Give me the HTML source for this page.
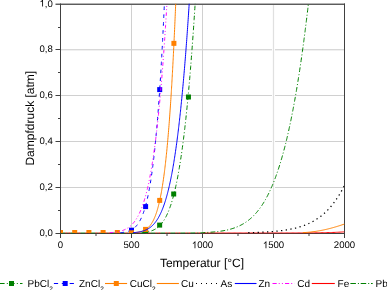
<!DOCTYPE html>
<html><head><meta charset="utf-8"><style>
html,body{margin:0;padding:0;background:#fff;width:387px;height:290px;overflow:hidden}
svg{display:block;will-change:transform;text-rendering:geometricPrecision;font-family:"Liberation Sans",sans-serif}
</style></head><body>
<svg width="387" height="290" viewBox="0 0 387 290">
<rect width="387" height="290" fill="#fff"/>
<defs><clipPath id="pc"><rect x="60.5" y="3.8" width="284" height="229.7"/></clipPath><clipPath id="pm"><rect x="60.5" y="3.8" width="284" height="229.2"/></clipPath></defs>
<g stroke="#d0d0d0" stroke-width="1"><line x1="61" y1="95.5" x2="344" y2="95.5"/><line x1="61" y1="141.5" x2="344" y2="141.5"/><line x1="61" y1="187.5" x2="344" y2="187.5"/><rect x="61" y="49" width="283" height="1" fill="#d8d8d8" stroke="none"/><rect x="61" y="50" width="283" height="1" fill="#f0f0f0" stroke="none"/><line x1="131.5" y1="4" x2="131.5" y2="233"/><line x1="202.5" y1="4" x2="202.5" y2="233"/><rect x="272" y="5" width="1" height="228" fill="#fbfbfb" stroke="none"/><rect x="273" y="5" width="1" height="228" fill="#e0e0e0" stroke="none"/><rect x="274" y="5" width="1" height="228" fill="#fcfcfc" stroke="none"/></g>
<g stroke="#404040" stroke-width="1" fill="none"><rect x="55.5" y="3" width="289.5" height="1" fill="#b4b4b4" stroke="none"/><rect x="55.5" y="4" width="289.5" height="1" fill="#5c5c5c" stroke="none"/><line x1="60.5" y1="3.5" x2="60.5" y2="233.5"/><line x1="344.5" y1="3.5" x2="344.5" y2="233.5"/><line x1="60" y1="233.5" x2="345" y2="233.5"/></g>
<g clip-path="url(#pc)" fill="none" stroke-width="1.0">
<path d="M60.5 233.00 H202.50" stroke="#ff0000" stroke-dasharray="0 4.8 2 1 2.2 0"/>
<path d="M202.50 233.00 L203.71 233.00 L204.91 233.00 L206.12 233.00 L207.33 233.00 L208.53 233.00 L209.74 233.00 L210.95 233.00 L212.16 233.00 L213.36 233.00 L214.57 233.00 L215.78 233.00 L216.98 233.00 L218.19 233.00 L219.40 233.00 L220.60 233.00 L221.81 233.00 L223.02 233.00 L224.23 233.00 L225.43 233.00 L226.64 233.00 L227.85 233.00 L229.05 233.00 L230.26 233.00 L231.47 233.00 L232.67 233.00 L233.88 233.00 L235.09 233.00 L236.30 233.00 L237.50 233.00 L238.71 233.00 L239.92 233.00 L241.12 233.00 L242.33 233.00 L243.54 233.00 L244.74 233.00 L245.95 233.00 L247.16 233.00 L248.37 233.00 L249.57 233.00 L250.78 233.00 L251.99 233.00 L253.19 233.00 L254.40 233.00 L255.61 233.00 L256.81 233.00 L258.02 233.00 L259.23 233.00 L260.44 233.00 L261.64 233.00 L262.85 233.00 L264.06 233.00 L265.26 233.00 L266.47 233.00 L267.68 233.00 L268.88 233.00 L270.09 233.00 L271.30 233.00 L272.51 233.00 L273.71 233.00 L274.92 232.99 L276.13 232.99 L277.33 232.99 L278.54 232.99 L279.75 232.99 L280.95 232.99 L282.16 232.99 L283.37 232.99 L284.58 232.99 L285.78 232.99 L286.99 232.98 L288.20 232.98 L289.40 232.98 L290.61 232.98 L291.82 232.98 L293.02 232.97 L294.23 232.97 L295.44 232.97 L296.65 232.96 L297.85 232.96 L299.06 232.95 L300.27 232.95 L301.47 232.95 L302.68 232.94 L303.89 232.93 L305.09 232.93 L306.30 232.92 L307.51 232.91 L308.72 232.90 L309.92 232.89 L311.13 232.88 L312.34 232.87 L313.54 232.86 L314.75 232.85 L315.96 232.83 L317.16 232.82 L318.37 232.80 L319.58 232.78 L320.79 232.76 L321.99 232.74 L323.20 232.72 L324.41 232.69 L325.61 232.66 L326.82 232.63 L328.03 232.60 L329.23 232.57 L330.44 232.53 L331.65 232.49 L332.86 232.45 L334.06 232.41 L335.27 232.36 L336.48 232.30 L337.68 232.25 L338.89 232.19 L340.10 232.12 L341.23 232.06 L342.37 231.99 L343.51 231.92 L344.50 231.85" stroke="#ff0000"/>
<path d="M60.50 233.00 L61.21 233.00 L61.92 233.00 L62.63 233.00 L63.34 233.00 L64.05 233.00 L64.76 233.00 L65.47 233.00 L66.18 233.00 L66.89 233.00 L67.60 233.00 L68.31 233.00 L69.02 233.00 L69.73 233.00 L70.44 233.00 L71.15 233.00 L71.86 233.00 L72.57 233.00 L73.28 233.00 L73.99 233.00 L74.70 233.00 L75.41 233.00 L76.12 233.00 L76.83 233.00 L77.54 233.00 L78.25 233.00 L78.96 233.00 L79.67 233.00 L80.38 233.00 L81.09 233.00 L81.80 233.00 L82.51 233.00 L83.22 233.00 L83.93 233.00 L84.64 233.00 L85.35 233.00 L86.06 233.00 L86.77 233.00 L87.48 233.00 L88.19 233.00 L88.90 233.00 L89.61 233.00 L90.32 233.00 L91.03 233.00 L91.74 233.00 L92.45 233.00 L93.16 233.00 L93.87 233.00 L94.58 233.00 L95.29 233.00 L96.00 233.00 L96.71 233.00 L97.42 233.00 L98.13 233.00 L98.84 233.00 L99.55 233.00 L100.26 233.00 L100.97 233.00 L101.68 233.00 L102.39 233.00 L103.10 233.00 L103.81 233.00 L104.52 233.00 L105.23 233.00 L105.94 233.00 L106.65 233.00 L107.36 233.00 L108.07 233.00 L108.78 233.00 L109.49 233.00 L110.20 233.00 L110.91 233.00 L111.62 233.00 L112.33 233.00 L113.04 233.00 L113.75 233.00 L114.46 233.00 L115.17 233.00 L115.88 233.00 L116.59 233.00 L117.30 233.00 L118.01 233.00 L118.72 233.00 L119.43 233.00 L120.14 233.00 L120.85 233.00 L121.56 233.00 L122.27 233.00 L122.98 233.00 L123.69 233.00 L124.40 233.00 L125.11 233.00 L125.82 233.00 L126.53 233.00 L127.24 233.00 L127.95 233.00 L128.66 233.00 L129.37 233.00 L130.08 233.00 L130.79 233.00 L131.50 233.00 L132.21 233.00 L132.92 233.00 L133.63 233.00 L134.34 233.00 L135.05 233.00 L135.76 233.00 L136.47 233.00 L137.18 233.00 L137.89 233.00 L138.60 233.00 L139.31 233.00 L140.02 233.00 L140.73 233.00 L141.44 233.00 L142.15 233.00 L142.86 233.00 L143.57 233.00 L144.28 233.00 L144.99 233.00 L145.70 233.00 L146.41 233.00 L147.12 233.00 L147.83 233.00 L148.54 233.00 L149.25 233.00 L149.96 233.00 L150.67 233.00 L151.38 233.00 L152.09 233.00 L152.80 233.00 L153.51 233.00 L154.22 233.00 L154.93 233.00 L155.64 233.00 L156.35 233.00 L157.06 233.00 L157.77 233.00 L158.48 233.00 L159.19 233.00 L159.90 233.00 L160.61 233.00 L161.32 233.00 L162.03 233.00 L162.74 233.00 L163.45 233.00 L164.16 233.00 L164.87 233.00 L165.58 233.00 L166.29 233.00 L167.00 232.99 L167.71 232.99 L168.42 232.99 L169.13 232.99 L169.84 232.99 L170.55 232.99 L171.26 232.99 L171.97 232.99 L172.68 232.99 L173.39 232.99 L174.10 232.99 L174.81 232.98 L175.52 232.98 L176.23 232.98 L176.94 232.98 L177.65 232.98 L178.36 232.98 L179.07 232.97 L179.78 232.97 L180.49 232.97 L181.20 232.96 L181.91 232.96 L182.62 232.96 L183.33 232.95 L184.04 232.95 L184.75 232.95 L185.46 232.94 L186.17 232.94 L186.88 232.93 L187.59 232.92 L188.30 232.92 L189.01 232.91 L189.72 232.90 L190.43 232.89 L191.14 232.89 L191.85 232.88 L192.56 232.87 L193.27 232.86 L193.98 232.84 L194.69 232.83 L195.40 232.82 L196.11 232.81 L196.82 232.79 L197.53 232.78 L198.24 232.76 L198.95 232.74 L199.66 232.72 L200.37 232.70 L201.08 232.68 L201.79 232.66 L202.50 232.63" stroke="#008000" stroke-dasharray="4.8 2 1 2.2"/>
<path d="M141.72 232.66 L142.86 232.57 L144.00 232.45 L145.13 232.32 L146.20 232.16 L147.26 231.98 L148.33 231.76 L149.32 231.52 L150.31 231.24 L151.24 230.95 L152.16 230.61 L153.01 230.26 L153.87 229.87 L154.72 229.43 L155.50 228.98 L156.28 228.49 L156.99 228.00 L157.70 227.46 L158.41 226.87 L159.05 226.30 L159.69 225.69 L160.33 225.03 L160.96 224.32 L161.53 223.65 L162.10 222.94 L162.67 222.18 L163.17 221.47 L163.66 220.73 L164.16 219.95 L164.66 219.13 L165.15 218.27 L165.65 217.36 L166.08 216.55 L166.50 215.70 L166.93 214.82 L167.35 213.90 L167.78 212.95 L168.21 211.95 L168.56 211.09 L168.92 210.20 L169.27 209.28 L169.63 208.33 L169.98 207.36 L170.34 206.35 L170.69 205.30 L171.05 204.23 L171.40 203.12 L171.76 201.97 L172.04 201.03 L172.32 200.07 L172.61 199.09 L172.89 198.07 L173.18 197.04 L173.46 195.98 L173.75 194.90 L174.03 193.79 L174.31 192.65 L174.60 191.49 L174.88 190.30 L175.16 189.08 L175.45 187.84 L175.73 186.57 L176.02 185.27 L176.23 184.27 L176.44 183.26 L176.66 182.23 L176.87 181.19 L177.08 180.12 L177.29 179.04 L177.51 177.95 L177.72 176.83 L177.93 175.70 L178.15 174.55 L178.36 173.38 L178.57 172.19 L178.79 170.98 L179.00 169.76 L179.21 168.51 L179.42 167.25 L179.64 165.96 L179.85 164.66 L180.06 163.33 L180.28 161.99 L180.49 160.62 L180.70 159.23 L180.92 157.83 L181.13 156.40 L181.34 154.95 L181.56 153.47 L181.77 151.98 L181.98 150.46 L182.19 148.93 L182.41 147.36 L182.62 145.78 L182.76 144.71 L182.90 143.63 L183.05 142.54 L183.19 141.44 L183.33 140.33 L183.47 139.21 L183.61 138.08 L183.76 136.94 L183.90 135.78 L184.04 134.62 L184.18 133.44 L184.32 132.26 L184.47 131.06 L184.61 129.85 L184.75 128.63 L184.89 127.40 L185.03 126.16 L185.18 124.90 L185.32 123.64 L185.46 122.36 L185.60 121.07 L185.74 119.77 L185.89 118.46 L186.03 117.13 L186.17 115.80 L186.31 114.45 L186.45 113.09 L186.60 111.71 L186.74 110.33 L186.88 108.93 L187.02 107.52 L187.16 106.10 L187.31 104.66 L187.45 103.21 L187.59 101.75 L187.73 100.28 L187.87 98.79 L188.02 97.29 L188.16 95.78 L188.30 94.26 L188.44 92.72 L188.58 91.17 L188.73 89.60 L188.87 88.02 L189.01 86.43 L189.15 84.82 L189.29 83.20 L189.44 81.57 L189.58 79.92 L189.72 78.26 L189.86 76.59 L190.00 74.90 L190.15 73.19 L190.29 71.48 L190.43 69.75 L190.57 68.00 L190.71 66.24 L190.86 64.46 L191.00 62.67 L191.14 60.87 L191.28 59.05 L191.42 57.22 L191.57 55.37 L191.71 53.50 L191.85 51.62 L191.99 49.73 L192.13 47.82 L192.28 45.89 L192.42 43.95 L192.56 42.00 L192.70 40.03 L192.84 38.04 L192.99 36.03 L193.13 34.02 L193.27 31.98 L193.41 29.93 L193.55 27.86 L193.70 25.78 L193.84 23.68 L193.98 21.56 L194.12 19.43 L194.26 17.28 L194.41 15.12 L194.55 12.94 L194.69 10.74 L194.83 8.52 L194.97 6.29 L195.12 4.04 L195.19 2.91 L195.26 1.77 L195.33 0.63 L195.40 -0.51 L195.47 -1.66 L195.54 -2.81 L195.61 -3.97 L195.68 -5.13 L195.75 -6.30 L195.83 -7.47 L195.90 -8.64 L195.97 -9.82 L196.04 -11.00 L196.11 -12.19 L196.18 -13.38 L196.25 -14.54 L196.25 -14.54" stroke="#008000" stroke-dasharray="4.5 2 1 2.5"/>
<g clip-path="url(#pm)" stroke="none">
<rect x="129.00" y="230.00" width="5" height="5" fill="#008000"/>
<rect x="143.20" y="230.00" width="5" height="5" fill="#008000"/>
<rect x="157.15" y="222.60" width="5" height="5" fill="#008000"/>
<rect x="171.20" y="191.50" width="5" height="5" fill="#008000"/>
<rect x="185.95" y="94.50" width="5" height="5" fill="#008000"/>
</g>
<path d="M120.42 232.66 L121.56 232.56 L122.70 232.44 L123.76 232.29 L124.83 232.12 L125.89 231.91 L126.88 231.67 L127.88 231.39 L128.80 231.08 L129.72 230.72 L130.58 230.34 L131.43 229.90 L132.21 229.45 L132.99 228.94 L133.70 228.42 L134.41 227.84 L135.05 227.27 L135.69 226.64 L136.33 225.95 L136.90 225.29 L137.46 224.57 L138.03 223.79 L138.53 223.07 L139.03 222.29 L139.52 221.46 L140.02 220.57 L140.45 219.76 L140.87 218.91 L141.30 218.01 L141.72 217.07 L142.15 216.07 L142.50 215.19 L142.86 214.28 L143.21 213.33 L143.57 212.33 L143.93 211.30 L144.28 210.22 L144.63 209.09 L144.92 208.15 L145.20 207.18 L145.49 206.18 L145.77 205.15 L146.06 204.08 L146.34 202.98 L146.62 201.84 L146.91 200.67 L147.19 199.45 L147.47 198.20 L147.76 196.91 L147.97 195.91 L148.19 194.89 L148.40 193.85 L148.61 192.78 L148.82 191.69 L149.04 190.57 L149.25 189.43 L149.46 188.26 L149.68 187.06 L149.89 185.84 L150.10 184.59 L150.31 183.31 L150.53 182.00 L150.74 180.66 L150.95 179.29 L151.17 177.90 L151.38 176.47 L151.59 175.01 L151.81 173.51 L152.02 171.99 L152.23 170.43 L152.44 168.84 L152.59 167.76 L152.73 166.66 L152.87 165.55 L153.01 164.42 L153.15 163.28 L153.30 162.12 L153.44 160.94 L153.58 159.75 L153.72 158.54 L153.87 157.31 L154.01 156.07 L154.15 154.81 L154.29 153.53 L154.43 152.23 L154.57 150.92 L154.72 149.59 L154.86 148.24 L155.00 146.87 L155.14 145.48 L155.28 144.07 L155.43 142.65 L155.57 141.20 L155.71 139.74 L155.85 138.26 L156.00 136.75 L156.14 135.23 L156.28 133.68 L156.42 132.12 L156.56 130.53 L156.70 128.92 L156.85 127.30 L156.99 125.65 L157.13 123.97 L157.27 122.28 L157.41 120.56 L157.56 118.83 L157.70 117.06 L157.84 115.28 L157.98 113.47 L158.12 111.64 L158.27 109.79 L158.41 107.91 L158.55 106.01 L158.69 104.08 L158.83 102.13 L158.98 100.16 L159.12 98.16 L159.26 96.13 L159.40 94.08 L159.54 92.00 L159.69 89.90 L159.83 87.77 L159.97 85.61 L160.11 83.43 L160.25 81.22 L160.40 78.98 L160.47 77.85 L160.54 76.71 L160.61 75.57 L160.68 74.42 L160.75 73.26 L160.82 72.09 L160.89 70.92 L160.96 69.74 L161.04 68.56 L161.11 67.36 L161.18 66.16 L161.25 64.96 L161.32 63.74 L161.39 62.52 L161.46 61.29 L161.53 60.05 L161.60 58.81 L161.68 57.55 L161.75 56.29 L161.82 55.02 L161.89 53.75 L161.96 52.47 L162.03 51.18 L162.10 49.88 L162.17 48.57 L162.24 47.26 L162.31 45.94 L162.38 44.61 L162.46 43.27 L162.53 41.92 L162.60 40.57 L162.67 39.21 L162.74 37.84 L162.81 36.46 L162.88 35.07 L162.95 33.68 L163.02 32.28 L163.09 30.87 L163.17 29.45 L163.24 28.02 L163.31 26.58 L163.38 25.14 L163.45 23.69 L163.52 22.23 L163.59 20.76 L163.66 19.28 L163.73 17.79 L163.81 16.30 L163.88 14.79 L163.95 13.28 L164.02 11.76 L164.09 10.23 L164.16 8.69 L164.23 7.14 L164.30 5.58 L164.37 4.02 L164.44 2.44 L164.51 0.86 L164.59 -0.73 L164.66 -2.34 L164.73 -3.95 L164.80 -5.57 L164.87 -7.20 L164.94 -8.84 L165.01 -10.48 L165.08 -12.14 L165.15 -13.81 L165.22 -14.54" stroke="#0000ff" stroke-dasharray="3.6 4.3"/>
<g clip-path="url(#pm)" stroke="none">
<rect x="129.00" y="227.70" width="5" height="5" fill="#0000ff"/>
<rect x="143.10" y="204.10" width="5" height="5" fill="#0000ff"/>
<rect x="157.20" y="87.10" width="5" height="5" fill="#0000ff"/>
</g>
<path d="M134.48 232.66 L135.62 232.56 L136.75 232.43 L137.82 232.28 L138.88 232.09 L139.88 231.88 L140.87 231.63 L141.79 231.35 L142.72 231.03 L143.57 230.67 L144.42 230.27 L145.20 229.84 L145.98 229.35 L146.69 228.85 L147.40 228.30 L148.11 227.67 L148.75 227.05 L149.39 226.37 L149.96 225.70 L150.53 224.97 L151.10 224.18 L151.59 223.44 L152.09 222.64 L152.59 221.78 L153.01 221.00 L153.44 220.16 L153.87 219.28 L154.29 218.34 L154.72 217.35 L155.07 216.48 L155.43 215.57 L155.78 214.61 L156.14 213.61 L156.49 212.56 L156.85 211.46 L157.13 210.54 L157.41 209.59 L157.70 208.60 L157.98 207.58 L158.27 206.52 L158.55 205.42 L158.83 204.28 L159.12 203.11 L159.40 201.89 L159.69 200.62 L159.97 199.32 L160.18 198.31 L160.40 197.27 L160.61 196.20 L160.82 195.11 L161.04 193.99 L161.25 192.85 L161.46 191.67 L161.68 190.46 L161.89 189.22 L162.10 187.95 L162.31 186.65 L162.53 185.32 L162.74 183.95 L162.95 182.55 L163.17 181.12 L163.38 179.65 L163.59 178.14 L163.81 176.60 L164.02 175.02 L164.16 173.94 L164.30 172.85 L164.44 171.74 L164.59 170.61 L164.73 169.47 L164.87 168.30 L165.01 167.12 L165.15 165.92 L165.30 164.70 L165.44 163.46 L165.58 162.20 L165.72 160.93 L165.86 159.63 L166.01 158.31 L166.15 156.97 L166.29 155.62 L166.43 154.24 L166.57 152.84 L166.72 151.41 L166.86 149.97 L167.00 148.50 L167.14 147.01 L167.28 145.50 L167.43 143.97 L167.57 142.41 L167.71 140.83 L167.85 139.23 L167.99 137.60 L168.14 135.95 L168.28 134.27 L168.42 132.57 L168.56 130.84 L168.70 129.09 L168.85 127.31 L168.99 125.51 L169.13 123.67 L169.27 121.82 L169.41 119.93 L169.56 118.02 L169.70 116.08 L169.84 114.11 L169.98 112.11 L170.12 110.09 L170.27 108.03 L170.41 105.95 L170.55 103.83 L170.69 101.69 L170.83 99.52 L170.98 97.31 L171.12 95.07 L171.19 93.94 L171.26 92.81 L171.33 91.66 L171.40 90.50 L171.47 89.34 L171.54 88.17 L171.62 86.99 L171.69 85.81 L171.76 84.61 L171.83 83.41 L171.90 82.20 L171.97 80.98 L172.04 79.75 L172.11 78.51 L172.18 77.27 L172.25 76.01 L172.32 74.75 L172.40 73.48 L172.47 72.20 L172.54 70.91 L172.61 69.61 L172.68 68.30 L172.75 66.99 L172.82 65.66 L172.89 64.33 L172.96 62.98 L173.03 61.63 L173.11 60.27 L173.18 58.90 L173.25 57.52 L173.32 56.13 L173.39 54.73 L173.46 53.32 L173.53 51.91 L173.60 50.48 L173.67 49.04 L173.75 47.60 L173.82 46.14 L173.89 44.67 L173.96 43.20 L174.03 41.71 L174.10 40.22 L174.17 38.71 L174.24 37.20 L174.31 35.67 L174.38 34.13 L174.45 32.59 L174.53 31.03 L174.60 29.47 L174.67 27.89 L174.74 26.30 L174.81 24.70 L174.88 23.09 L174.95 21.48 L175.02 19.85 L175.09 18.21 L175.16 16.55 L175.24 14.89 L175.31 13.22 L175.38 11.54 L175.45 9.84 L175.52 8.13 L175.59 6.42 L175.66 4.69 L175.73 2.95 L175.80 1.20 L175.88 -0.56 L175.95 -2.34 L176.02 -4.12 L176.09 -5.92 L176.16 -7.73 L176.23 -9.55 L176.30 -11.38 L176.37 -13.22 L176.44 -14.54 L176.44 -14.54" stroke="#ff8000"/>
<g clip-path="url(#pm)" stroke="none">
<rect x="58.00" y="230.00" width="5" height="5" fill="#ff8000"/>
<rect x="72.20" y="230.00" width="5" height="5" fill="#ff8000"/>
<rect x="86.40" y="230.00" width="5" height="5" fill="#ff8000"/>
<rect x="100.60" y="230.00" width="5" height="5" fill="#ff8000"/>
<rect x="114.80" y="230.00" width="5" height="5" fill="#ff8000"/>
<rect x="129.00" y="230.30" width="5" height="5" fill="#ff8000"/>
<rect x="143.05" y="226.90" width="5" height="5" fill="#ff8000"/>
<rect x="157.20" y="197.90" width="5" height="5" fill="#ff8000"/>
<rect x="171.40" y="40.85" width="5" height="5" fill="#ff8000"/>
</g>
<path d="M302.82 232.66 L303.96 232.59 L305.09 232.52 L306.23 232.44 L307.37 232.35 L308.50 232.24 L309.64 232.14 L310.77 232.02 L311.91 231.89 L313.05 231.75 L314.11 231.61 L315.18 231.46 L316.24 231.30 L317.31 231.13 L318.37 230.96 L319.44 230.77 L320.50 230.58 L321.57 230.37 L322.63 230.16 L323.63 229.96 L324.62 229.74 L325.61 229.52 L326.61 229.29 L327.60 229.05 L328.60 228.81 L329.59 228.56 L330.58 228.30 L331.58 228.03 L332.57 227.76 L333.57 227.48 L334.56 227.20 L335.55 226.90 L336.55 226.61 L337.47 226.32 L338.39 226.04 L339.32 225.74 L340.24 225.44 L341.16 225.14 L342.09 224.83 L343.01 224.52 L343.93 224.21 L344.50 224.01" stroke="#ff8000"/>
<path d="M248.22 232.66 L249.43 232.63 L250.64 232.60 L251.84 232.57 L253.05 232.54 L254.26 232.50 L255.47 232.47 L256.67 232.43 L257.88 232.38 L259.09 232.34 L260.29 232.29 L261.50 232.24 L262.71 232.18 L263.91 232.12 L265.12 232.06 L266.33 231.99 L267.46 231.92 L268.60 231.85 L269.74 231.77 L270.87 231.69 L272.01 231.60 L273.14 231.51 L274.28 231.41 L275.42 231.31 L276.55 231.20 L277.69 231.09 L278.82 230.96 L279.96 230.83 L281.10 230.69 L282.16 230.56 L283.23 230.42 L284.29 230.26 L285.36 230.10 L286.42 229.94 L287.49 229.76 L288.55 229.57 L289.62 229.38 L290.68 229.17 L291.75 228.95 L292.74 228.74 L293.74 228.52 L294.73 228.28 L295.72 228.04 L296.72 227.78 L297.71 227.51 L298.70 227.23 L299.70 226.93 L300.62 226.64 L301.54 226.34 L302.47 226.03 L303.39 225.71 L304.31 225.37 L305.24 225.01 L306.16 224.64 L307.01 224.29 L307.86 223.92 L308.72 223.54 L309.57 223.14 L310.42 222.73 L311.27 222.30 L312.12 221.85 L312.90 221.43 L313.69 220.99 L314.47 220.54 L315.25 220.07 L316.03 219.59 L316.81 219.09 L317.59 218.57 L318.37 218.03 L319.08 217.53 L319.79 217.01 L320.50 216.48 L321.21 215.93 L321.92 215.36 L322.63 214.77 L323.34 214.17 L324.05 213.55 L324.69 212.98 L325.33 212.39 L325.97 211.78 L326.61 211.16 L327.25 210.52 L327.89 209.86 L328.52 209.19 L329.16 208.50 L329.80 207.79 L330.37 207.14 L330.94 206.48 L331.51 205.80 L332.07 205.11 L332.64 204.40 L333.21 203.67 L333.78 202.93 L334.35 202.17 L334.91 201.40 L335.48 200.60 L335.98 199.89 L336.48 199.16 L336.97 198.42 L337.47 197.67 L337.97 196.90 L338.46 196.12 L338.96 195.32 L339.46 194.50 L339.96 193.67 L340.45 192.82 L340.95 191.95 L341.45 191.07 L341.94 190.17 L342.37 189.39 L342.80 188.59 L343.22 187.78 L343.65 186.95 L344.07 186.11 L344.50 185.26 L344.50 185.26" stroke="#000000" stroke-dasharray="1.3 3.4" stroke-width="1.25"/>
<path d="M133.06 232.66 L134.20 232.57 L135.33 232.47 L136.47 232.34 L137.53 232.21 L138.60 232.04 L139.66 231.85 L140.66 231.65 L141.65 231.41 L142.65 231.14 L143.57 230.85 L144.49 230.53 L145.42 230.16 L146.27 229.78 L147.12 229.36 L147.90 228.93 L148.68 228.47 L149.46 227.96 L150.17 227.45 L150.88 226.90 L151.59 226.31 L152.23 225.73 L152.87 225.11 L153.51 224.45 L154.15 223.75 L154.72 223.08 L155.28 222.37 L155.85 221.62 L156.42 220.82 L156.92 220.09 L157.41 219.32 L157.91 218.52 L158.41 217.67 L158.91 216.78 L159.33 215.99 L159.76 215.17 L160.18 214.31 L160.61 213.42 L161.04 212.49 L161.46 211.52 L161.89 210.52 L162.24 209.66 L162.60 208.77 L162.95 207.85 L163.31 206.91 L163.66 205.93 L164.02 204.93 L164.37 203.89 L164.73 202.82 L165.08 201.72 L165.44 200.59 L165.72 199.66 L166.01 198.71 L166.29 197.74 L166.57 196.74 L166.86 195.72 L167.14 194.68 L167.43 193.61 L167.71 192.52 L167.99 191.41 L168.28 190.27 L168.56 189.10 L168.85 187.91 L169.13 186.69 L169.41 185.45 L169.70 184.18 L169.98 182.88 L170.19 181.89 L170.41 180.88 L170.62 179.86 L170.83 178.82 L171.05 177.76 L171.26 176.68 L171.47 175.59 L171.69 174.49 L171.90 173.36 L172.11 172.22 L172.32 171.06 L172.54 169.88 L172.75 168.69 L172.96 167.47 L173.18 166.24 L173.39 164.99 L173.60 163.72 L173.82 162.43 L174.03 161.12 L174.24 159.79 L174.45 158.44 L174.67 157.08 L174.88 155.69 L175.09 154.28 L175.31 152.85 L175.52 151.40 L175.73 149.93 L175.95 148.44 L176.16 146.92 L176.37 145.39 L176.58 143.83 L176.80 142.25 L176.94 141.19 L177.08 140.11 L177.22 139.03 L177.37 137.93 L177.51 136.82 L177.65 135.71 L177.79 134.58 L177.93 133.44 L178.08 132.30 L178.22 131.14 L178.36 129.97 L178.50 128.79 L178.64 127.60 L178.79 126.40 L178.93 125.19 L179.07 123.97 L179.21 122.73 L179.35 121.49 L179.50 120.23 L179.64 118.96 L179.78 117.68 L179.92 116.39 L180.06 115.09 L180.21 113.78 L180.35 112.45 L180.49 111.12 L180.63 109.77 L180.77 108.41 L180.92 107.04 L181.06 105.65 L181.20 104.25 L181.34 102.85 L181.48 101.43 L181.63 99.99 L181.77 98.55 L181.91 97.09 L182.05 95.62 L182.19 94.14 L182.34 92.64 L182.48 91.13 L182.62 89.61 L182.76 88.08 L182.90 86.53 L183.05 84.97 L183.19 83.39 L183.33 81.81 L183.47 80.21 L183.61 78.59 L183.76 76.97 L183.90 75.33 L184.04 73.67 L184.18 72.01 L184.32 70.32 L184.47 68.63 L184.61 66.92 L184.75 65.20 L184.89 63.46 L185.03 61.71 L185.18 59.94 L185.32 58.16 L185.46 56.37 L185.60 54.56 L185.74 52.73 L185.89 50.89 L186.03 49.04 L186.17 47.17 L186.31 45.29 L186.45 43.39 L186.60 41.48 L186.74 39.55 L186.88 37.61 L187.02 35.65 L187.16 33.68 L187.31 31.69 L187.45 29.68 L187.59 27.66 L187.73 25.62 L187.87 23.57 L188.02 21.50 L188.16 19.42 L188.30 17.32 L188.44 15.20 L188.58 13.07 L188.73 10.92 L188.87 8.75 L189.01 6.57 L189.15 4.37 L189.29 2.16 L189.44 -0.08 L189.58 -2.32 L189.65 -3.46 L189.72 -4.59 L189.79 -5.73 L189.86 -6.87 L189.93 -8.02 L190.00 -9.17 L190.07 -10.33 L190.15 -11.49 L190.22 -12.66 L190.29 -13.83 L190.36 -14.54" stroke="#0000ff"/>
<path d="M109.92 232.66 L111.05 232.58 L112.19 232.50 L113.32 232.39 L114.46 232.27 L115.53 232.13 L116.59 231.97 L117.66 231.79 L118.72 231.57 L119.71 231.35 L120.71 231.09 L121.70 230.80 L122.62 230.49 L123.55 230.15 L124.40 229.79 L125.25 229.40 L126.10 228.97 L126.88 228.53 L127.67 228.06 L128.45 227.54 L129.16 227.02 L129.87 226.47 L130.58 225.87 L131.22 225.29 L131.85 224.66 L132.49 224.00 L133.13 223.29 L133.70 222.62 L134.27 221.91 L134.84 221.15 L135.40 220.36 L135.90 219.62 L136.40 218.85 L136.90 218.04 L137.39 217.19 L137.89 216.30 L138.32 215.50 L138.74 214.67 L139.17 213.81 L139.59 212.91 L140.02 211.97 L140.45 211.00 L140.87 209.99 L141.23 209.12 L141.58 208.21 L141.94 207.28 L142.29 206.32 L142.65 205.33 L143.00 204.31 L143.36 203.26 L143.71 202.17 L144.07 201.05 L144.35 200.12 L144.63 199.18 L144.92 198.21 L145.20 197.22 L145.49 196.20 L145.77 195.16 L146.06 194.10 L146.34 193.00 L146.62 191.89 L146.91 190.74 L147.19 189.57 L147.47 188.37 L147.76 187.15 L148.04 185.89 L148.33 184.61 L148.61 183.29 L148.82 182.29 L149.04 181.26 L149.25 180.22 L149.46 179.17 L149.68 178.09 L149.89 177.00 L150.10 175.88 L150.31 174.75 L150.53 173.60 L150.74 172.43 L150.95 171.24 L151.17 170.03 L151.38 168.80 L151.59 167.55 L151.81 166.28 L152.02 164.99 L152.23 163.68 L152.44 162.34 L152.66 160.99 L152.87 159.61 L153.08 158.21 L153.30 156.79 L153.51 155.34 L153.72 153.87 L153.94 152.38 L154.15 150.86 L154.36 149.32 L154.57 147.76 L154.79 146.17 L154.93 145.10 L155.07 144.01 L155.21 142.92 L155.36 141.81 L155.50 140.69 L155.64 139.56 L155.78 138.42 L155.92 137.27 L156.07 136.10 L156.21 134.92 L156.35 133.73 L156.49 132.53 L156.63 131.32 L156.78 130.09 L156.92 128.85 L157.06 127.60 L157.20 126.34 L157.34 125.06 L157.49 123.77 L157.63 122.47 L157.77 121.15 L157.91 119.83 L158.05 118.48 L158.20 117.13 L158.34 115.76 L158.48 114.38 L158.62 112.98 L158.76 111.57 L158.91 110.15 L159.05 108.71 L159.19 107.26 L159.33 105.79 L159.47 104.31 L159.62 102.81 L159.76 101.30 L159.90 99.78 L160.04 98.24 L160.18 96.68 L160.33 95.11 L160.47 93.53 L160.61 91.93 L160.75 90.31 L160.89 88.68 L161.04 87.04 L161.18 85.37 L161.32 83.70 L161.46 82.00 L161.60 80.29 L161.75 78.57 L161.89 76.82 L162.03 75.06 L162.17 73.29 L162.31 71.50 L162.46 69.69 L162.60 67.86 L162.74 66.02 L162.88 64.16 L163.02 62.28 L163.17 60.38 L163.31 58.47 L163.45 56.54 L163.59 54.59 L163.73 52.62 L163.88 50.64 L164.02 48.64 L164.16 46.61 L164.30 44.57 L164.44 42.52 L164.59 40.44 L164.73 38.34 L164.87 36.23 L165.01 34.09 L165.15 31.94 L165.30 29.77 L165.44 27.57 L165.58 25.36 L165.72 23.13 L165.86 20.88 L165.94 19.74 L166.01 18.60 L166.08 17.46 L166.15 16.31 L166.22 15.16 L166.29 14.00 L166.36 12.83 L166.43 11.66 L166.50 10.49 L166.57 9.31 L166.64 8.12 L166.72 6.93 L166.79 5.74 L166.86 4.54 L166.93 3.33 L167.00 2.12 L167.07 0.90 L167.14 -0.32 L167.21 -1.55 L167.28 -2.78 L167.35 -4.02 L167.43 -5.26 L167.50 -6.51 L167.57 -7.76 L167.64 -9.02 L167.71 -10.29 L167.78 -11.56 L167.85 -12.84 L167.92 -14.12 L167.99 -14.54" stroke="#ff00ff" stroke-dasharray="3.6 2.2 1 2.2 1 2.5"/>
<path d="M202.50 232.63 L203.71 232.59 L204.91 232.53 L206.12 232.48 L207.33 232.42 L208.53 232.35 L209.67 232.28 L210.81 232.20 L211.94 232.12 L213.08 232.03 L214.21 231.93 L215.35 231.82 L216.49 231.70 L217.62 231.57 L218.76 231.44 L219.82 231.30 L220.89 231.14 L221.95 230.98 L223.02 230.80 L224.08 230.62 L225.15 230.41 L226.21 230.20 L227.21 229.98 L228.20 229.75 L229.20 229.50 L230.19 229.24 L231.18 228.96 L232.18 228.66 L233.10 228.37 L234.02 228.05 L234.95 227.73 L235.87 227.38 L236.79 227.01 L237.64 226.66 L238.50 226.28 L239.35 225.89 L240.20 225.48 L241.05 225.04 L241.90 224.59 L242.69 224.15 L243.47 223.70 L244.25 223.22 L245.03 222.73 L245.81 222.21 L246.59 221.67 L247.30 221.16 L248.01 220.63 L248.72 220.08 L249.43 219.51 L250.14 218.92 L250.85 218.31 L251.49 217.74 L252.13 217.15 L252.77 216.54 L253.41 215.91 L254.05 215.26 L254.68 214.59 L255.32 213.89 L255.89 213.26 L256.46 212.61 L257.03 211.94 L257.60 211.25 L258.16 210.54 L258.73 209.82 L259.30 209.07 L259.87 208.30 L260.44 207.52 L260.93 206.81 L261.43 206.09 L261.93 205.35 L262.42 204.59 L262.92 203.82 L263.42 203.02 L263.91 202.21 L264.41 201.39 L264.91 200.54 L265.41 199.67 L265.90 198.79 L266.33 198.01 L266.75 197.22 L267.18 196.42 L267.61 195.60 L268.03 194.76 L268.46 193.91 L268.88 193.05 L269.31 192.16 L269.74 191.27 L270.16 190.35 L270.59 189.42 L271.01 188.47 L271.44 187.50 L271.87 186.52 L272.29 185.52 L272.65 184.67 L273.00 183.81 L273.36 182.93 L273.71 182.05 L274.07 181.15 L274.42 180.23 L274.78 179.31 L275.13 178.37 L275.49 177.41 L275.84 176.44 L276.20 175.46 L276.55 174.46 L276.91 173.45 L277.26 172.43 L277.62 171.39 L277.97 170.33 L278.33 169.26 L278.68 168.18 L279.04 167.08 L279.39 165.96 L279.75 164.83 L280.03 163.91 L280.32 162.99 L280.60 162.05 L280.88 161.10 L281.17 160.14 L281.45 159.18 L281.74 158.20 L282.02 157.21 L282.30 156.20 L282.59 155.19 L282.87 154.17 L283.16 153.13 L283.44 152.09 L283.72 151.03 L284.01 149.96 L284.29 148.88 L284.58 147.79 L284.86 146.69 L285.14 145.57 L285.43 144.45 L285.71 143.31 L286.00 142.15 L286.28 140.99 L286.56 139.81 L286.85 138.63 L287.13 137.43 L287.42 136.21 L287.70 134.99 L287.98 133.75 L288.27 132.49 L288.55 131.23 L288.84 129.95 L289.12 128.66 L289.40 127.35 L289.62 126.37 L289.83 125.37 L290.04 124.37 L290.26 123.36 L290.47 122.34 L290.68 121.31 L290.89 120.28 L291.11 119.24 L291.32 118.19 L291.53 117.13 L291.75 116.07 L291.96 114.99 L292.17 113.91 L292.39 112.82 L292.60 111.72 L292.81 110.61 L293.02 109.50 L293.24 108.38 L293.45 107.24 L293.66 106.10 L293.88 104.96 L294.09 103.80 L294.30 102.63 L294.52 101.46 L294.73 100.28 L294.94 99.08 L295.15 97.88 L295.37 96.67 L295.58 95.45 L295.79 94.23 L296.01 92.99 L296.22 91.74 L296.43 90.49 L296.65 89.23 L296.86 87.95 L297.07 86.67 L297.28 85.38 L297.50 84.08 L297.71 82.77 L297.92 81.45 L298.14 80.12 L298.35 78.78 L298.56 77.43 L298.78 76.07 L298.99 74.71 L299.20 73.33 L299.41 71.94 L299.63 70.54 L299.84 69.14 L300.05 67.72 L300.27 66.29 L300.48 64.86 L300.69 63.41 L300.91 61.95 L301.12 60.48 L301.33 59.00 L301.54 57.52 L301.76 56.02 L301.97 54.51 L302.18 52.99 L302.40 51.46 L302.61 49.91 L302.82 48.36 L303.04 46.80 L303.25 45.23 L303.46 43.64 L303.60 42.58 L303.75 41.51 L303.89 40.44 L304.03 39.36 L304.17 38.28 L304.31 37.20 L304.46 36.10 L304.60 35.01 L304.74 33.91 L304.88 32.80 L305.02 31.69 L305.17 30.57 L305.31 29.45 L305.45 28.32 L305.59 27.19 L305.73 26.05 L305.88 24.91 L306.02 23.76 L306.16 22.61 L306.30 21.45 L306.44 20.29 L306.59 19.12 L306.73 17.95 L306.87 16.77 L307.01 15.59 L307.15 14.40 L307.30 13.20 L307.44 12.00 L307.58 10.80 L307.72 9.59 L307.86 8.37 L308.01 7.15 L308.15 5.92 L308.29 4.69 L308.43 3.45 L308.57 2.21 L308.72 0.96 L308.86 -0.29 L309.00 -1.55 L309.14 -2.82 L309.28 -4.09 L309.43 -5.36 L309.57 -6.64 L309.71 -7.93 L309.85 -9.22 L309.99 -10.52 L310.14 -11.83 L310.28 -13.14 L310.42 -14.45 L310.49 -14.54" stroke="#008000" stroke-dasharray="4.8 2 1 2.2" stroke-dashoffset="142.003"/>
</g>
<g stroke="#404040" stroke-width="1"><line x1="55.5" y1="233.5" x2="60.5" y2="233.5"/><line x1="55.5" y1="187.5" x2="60.5" y2="187.5"/><line x1="55.5" y1="141.5" x2="60.5" y2="141.5"/><line x1="55.5" y1="95.5" x2="60.5" y2="95.5"/><line x1="55.5" y1="49.5" x2="60.5" y2="49.5"/><line x1="58" y1="210.5" x2="60.5" y2="210.5"/><line x1="58" y1="164.5" x2="60.5" y2="164.5"/><line x1="58" y1="118.5" x2="60.5" y2="118.5"/><line x1="58" y1="72.5" x2="60.5" y2="72.5"/><line x1="58" y1="27.5" x2="60.5" y2="27.5"/><line x1="60.5" y1="233.5" x2="60.5" y2="238"/><line x1="131.5" y1="233.5" x2="131.5" y2="238"/><line x1="202.5" y1="233.5" x2="202.5" y2="238"/><line x1="273.5" y1="233.5" x2="273.5" y2="238"/><line x1="344.5" y1="233.5" x2="344.5" y2="238"/><line x1="96.0" y1="233.5" x2="96.0" y2="236"/><line x1="167.0" y1="233.5" x2="167.0" y2="236"/><line x1="238.0" y1="233.5" x2="238.0" y2="236"/><line x1="309.0" y1="233.5" x2="309.0" y2="236"/></g>
<g font-size="9.6" fill="#000"><text x="39.455" y="236.10">0,0</text><text x="39.455" y="190.10">0,2</text><text x="39.455" y="144.10">0,4</text><text x="39.455" y="98.10">0,6</text><text x="39.455" y="52.10">0,8</text><path transform="translate(39.455 6.60) scale(0.004687 -0.004687)" d="M763 0H583V1147C540 1106 483 1064 413 1023C343 982 280 951 224 930V1104C325 1151 413 1208 488 1275C563 1342 616 1407 647 1472H763Z"/><text x="44.794" y="6.60">,0</text><text x="57.830" y="248.20">0</text><text x="123.491" y="248.20">500</text><path transform="translate(191.822 248.20) scale(0.004687 -0.004687)" d="M763 0H583V1147C540 1106 483 1064 413 1023C343 982 280 951 224 930V1104C325 1151 413 1208 488 1275C563 1342 616 1407 647 1472H763Z"/><text x="197.161" y="248.20">000</text><path transform="translate(262.822 248.20) scale(0.004687 -0.004687)" d="M763 0H583V1147C540 1106 483 1064 413 1023C343 982 280 951 224 930V1104C325 1151 413 1208 488 1275C563 1342 616 1407 647 1472H763Z"/><text x="268.161" y="248.20">500</text><text x="333.822" y="248.20">2000</text></g>
<text x="202" y="266.7" font-size="12" text-anchor="middle">Temperatur [°C]</text>
<text transform="translate(33.7 118.2) rotate(-90)" font-size="12" text-anchor="middle">Dampfdruck [atm]</text>
<g font-size="10" fill="#000"><line x1="0.0" y1="283.5" x2="22.5" y2="283.5" stroke="#008000" stroke-width="1.1" stroke-dasharray="4.6 2.2 1 2.2"/><rect x="9.0" y="281.0" width="5" height="5" fill="#008000"/><line x1="53.9" y1="283.5" x2="74.0" y2="283.5" stroke="#0000ff" stroke-width="1.1" stroke-dasharray="4.2 3.7"/><rect x="62.7" y="281.0" width="5" height="5" fill="#0000ff"/><line x1="105.0" y1="283.5" x2="127.1" y2="283.5" stroke="#ff8000" stroke-width="1.1"/><rect x="113.8" y="281.0" width="5" height="5" fill="#ff8000"/><line x1="156.8" y1="283.5" x2="178.9" y2="283.5" stroke="#ff8000" stroke-width="1.1"/><line x1="196.0" y1="283.5" x2="217.5" y2="283.5" stroke="#000000" stroke-width="1.1" stroke-dasharray="1 4"/><line x1="234.8" y1="283.5" x2="256.5" y2="283.5" stroke="#0000ff" stroke-width="1.1"/><line x1="272.5" y1="283.5" x2="294.5" y2="283.5" stroke="#ff00ff" stroke-width="1.1" stroke-dasharray="4.2 2 1 2.2 1 2.1"/><line x1="311.8" y1="283.5" x2="334.8" y2="283.5" stroke="#ff0000" stroke-width="1.1"/><line x1="350.4" y1="283.5" x2="372.7" y2="283.5" stroke="#008000" stroke-width="1.1" stroke-dasharray="5.5 2 1 1.8"/><text x="27.5" y="286.8">PbCl<tspan font-size="6.5" dy="4.2">2</tspan></text><text x="79.0" y="286.8">ZnCl<tspan font-size="6.5" dy="4.2">2</tspan></text><text x="129.7" y="286.8">CuCl<tspan font-size="6.5" dy="4.2">2</tspan></text><text x="181.0" y="286.8">Cu</text><text x="220.5" y="286.8">As</text><text x="258.5" y="286.8">Zn</text><text x="297.3" y="286.8">Cd</text><text x="337.6" y="286.8">Fe</text><text x="375.5" y="286.8">Pb</text></g>
</svg>
</body></html>
